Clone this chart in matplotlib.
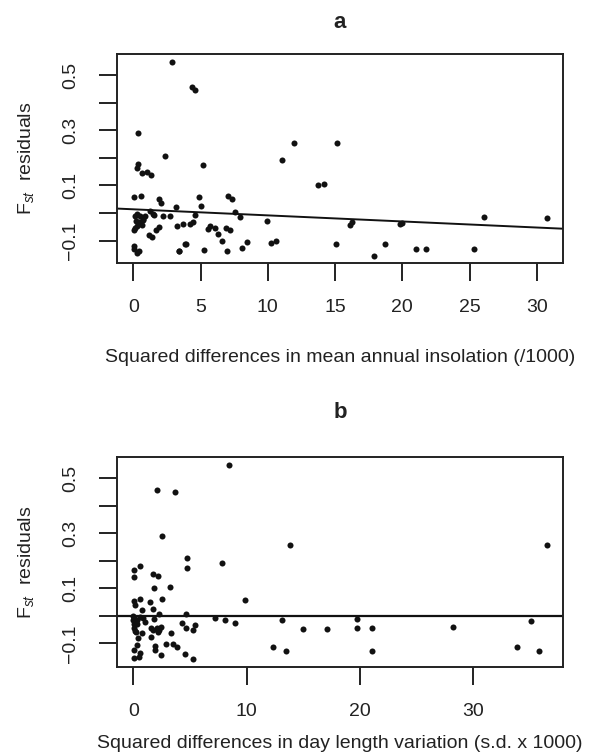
import matplotlib
matplotlib.use('Agg')
import matplotlib.pyplot as plt
import numpy as np

plt.rcParams['font.family'] = ['Liberation Sans', 'DejaVu Sans']
plt.rcParams['mathtext.fontset'] = 'custom'
plt.rcParams['mathtext.rm'] = 'Liberation Sans'
plt.rcParams['mathtext.it'] = 'Liberation Sans:italic'

# ---------------- Panel a data ----------------
insolation_x = [2.91, 4.4, 4.6, 0.34, 0.25, 0.37, 0.64, 0.99, 1.31, 2.36, 5.17, 11.08, 11.97, 15.17,
                13.74, 14.19, 0.07, 0.54, 1.9, 2.07, 3.15, 4.88, 5.05, 7.02, 7.36, 7.59, 7.93, 9.95,
                10.22, 10.59, 15.1, 16.1, 16.25,
                0.13, 0.3, 0.5, 0.7, 0.2, 0.45, 0.74, 0.3, 0.05, 0.15, 0.62, 0.87,
                1.24, 1.49, 1.56, 2.23, 2.73, 1.19, 1.37, 1.69, 1.93, 3.23, 3.72, 4.21, 4.42, 4.59,
                0.05, 0.05, 0.25, 0.45, 3.9, 3.4,
                5.52, 5.67, 6.06, 6.33, 6.6, 6.9, 7.22, 8.42, 8.08, 7.0, 5.25, 3.84, 3.37,
                17.9, 18.75, 19.8, 20.0, 21.05, 21.8, 25.3, 26.08, 30.78]
insolation_y = [0.546, 0.455, 0.447, 0.289, 0.164, 0.176, 0.144, 0.15, 0.139, 0.208, 0.173, 0.192, 0.255, 0.255,
                0.102, 0.104, 0.058, 0.061, 0.052, 0.038, 0.021, 0.057, 0.026, 0.063, 0.052, 0.004, -0.015, -0.028,
                -0.108, -0.102, -0.111, -0.043, -0.031,
                -0.012, -0.003, -0.012, -0.022, -0.03, -0.033, -0.027, -0.046, -0.061, -0.054, -0.043, -0.011,
                0.006, -0.003, -0.006, -0.01, -0.009, -0.079, -0.087, -0.063, -0.05, -0.046, -0.04, -0.04, -0.033, -0.006,
                -0.121, -0.13, -0.143, -0.139, -0.112, -0.137,
                -0.059, -0.047, -0.055, -0.076, -0.102, -0.055, -0.063, -0.104, -0.125, -0.137, -0.133, -0.113, -0.137,
                -0.157, -0.113, -0.04, -0.037, -0.129, -0.129, -0.13, -0.014, -0.019]
fit_a_intercept = 0.0135
fit_a_slope = -0.0022

# ---------------- Panel b data ----------------
daylength_x = [8.44, 2.12, 3.68, 2.56, 13.85, 4.76, 4.76, 7.82, 0.09, 0.59, 0.09, 1.76, 2.15, 1.85, 3.26,
               9.88, 0.09, 0.15, 0.59, 1.44, 2.56, 0.74, 1.76, 2.24, 4.62, 7.24, 8.12, 9.0, 13.09,
               14.97, 17.09, 4.29, 4.65, 5.24, 5.41, 12.32, 13.5, 5.24, 4.53,
               2.41, 1.94, 1.94, 1.56, 1.74, 1.56, 2.06, 2.24, 2.41, 2.18, 1.85,
               2.91, 3.47, 3.88, 3.32, 1.03, 0.88, 0.59, 0.79, 0.44,
               0.29, 0.09, 0.59, 0.53, 0.09,
               0.0, 0.06, 0.12, 0.05, 0.2, 0.3, 0.08, 0.15, 0.25, 0.0, 0.35,
               19.76, 19.76, 21.09, 21.09, 28.18, 35.12, 33.85, 35.74, 36.45]
daylength_y = [0.548, 0.458, 0.45, 0.291, 0.257, 0.209, 0.174, 0.192, 0.166, 0.179, 0.142, 0.15, 0.146, 0.102, 0.105,
               0.057, 0.053, 0.039, 0.06, 0.051, 0.06, 0.021, 0.024, 0.005, 0.005, -0.007, -0.017, -0.027, -0.015,
               -0.048, -0.048, -0.027, -0.044, -0.05, -0.034, -0.113, -0.128, -0.158, -0.138,
               -0.142, -0.125, -0.109, -0.076, -0.052, -0.044, -0.046, -0.052, -0.042, -0.058, -0.013,
               -0.103, -0.104, -0.114, -0.064, -0.022, -0.01, -0.004, -0.062, -0.079,
               -0.106, -0.125, -0.134, -0.149, -0.155,
               0.0, -0.01, -0.02, -0.03, -0.025, -0.03, -0.045, -0.055, -0.06, -0.015, -0.015,
               -0.013, -0.044, -0.045, -0.129, -0.04, -0.019, -0.115, -0.129, 0.255]
fit_b_level = 0.0

xticks_a = [0, 5, 10, 15, 20, 25, 30]
xticks_b = [0, 10, 20, 30]
yticks = [-0.1, 0.0, 0.1, 0.2, 0.3, 0.4, 0.5]
ytick_labels = ['\u22120.1', '', '0.1', '', '0.3', '', '0.5']

W, H = 591, 755
FS = 14
fig = plt.figure(figsize=(W / 100, H / 100), dpi=100)
ax_a = fig.add_axes([117 / W, 1 - 263 / H, 446 / W, 209 / H])
ax_b = fig.add_axes([117 / W, 1 - 667 / H, 446 / W, 210 / H])


def style(ax, xticks):
    for s in ax.spines.values():
        s.set_linewidth(1.4)
        s.set_color('#222222')
    ax.set_xticks(xticks)
    ax.set_xticklabels([str(t) for t in xticks])
    ax.set_yticks(yticks)
    ax.set_yticklabels(ytick_labels)
    ax.tick_params(axis='both', direction='out', length=13, width=1.4, labelsize=FS,
                   color='#222222', labelcolor='#222222')
    ax.tick_params(axis='x', pad=13)
    ax.tick_params(axis='y', pad=14)
    for lab in ax.get_yticklabels():
        lab.set_rotation(90)
        lab.set_va('center')
        lab.set_ha('right')


ax_a.scatter(insolation_x, insolation_y, s=19, color='#111111', linewidths=0, zorder=3)
ax_a.axline((0, fit_a_intercept), slope=fit_a_slope, color='#111111', lw=1.4)
ax_a.set_xlim(-1.21, 31.95)
ax_a.set_ylim(-0.181, 0.576)
style(ax_a, xticks_a)

ax_b.scatter(daylength_x, daylength_y, s=19, color='#111111', linewidths=0, zorder=3)
ax_b.axhline(fit_b_level, color='#111111', lw=1.6)
ax_b.set_xlim(-1.44, 37.9)
ax_b.set_ylim(-0.186, 0.576)
style(ax_b, xticks_b)

cx = 340 / W
fig.text(cx, 1 - 22 / H, 'a', fontsize=16, fontweight='bold', ha='center', va='center', color='#222222')
fig.text(cx, 1 - 412 / H, 'b', fontsize=16, fontweight='bold', ha='center', va='center', color='#222222')
fig.text(cx, 1 - 358 / H, 'Squared differences in mean annual insolation (/1000)', fontsize=FS,
         ha='center', va='center', color='#222222')
fig.text(cx, 1 - 743 / H, 'Squared differences in day length variation (s.d. x 1000)', fontsize=FS,
         ha='center', va='center', color='#222222')
ylab = r'$\mathrm{F}_{st}$  residuals'
fig.text(26 / W, 1 - 158.5 / H, ylab, fontsize=FS, rotation=90, ha='center', va='center', color='#222222')
fig.text(26 / W, 1 - 562 / H, ylab, fontsize=FS, rotation=90, ha='center', va='center', color='#222222')

fig.savefig('out.png', dpi=100)
